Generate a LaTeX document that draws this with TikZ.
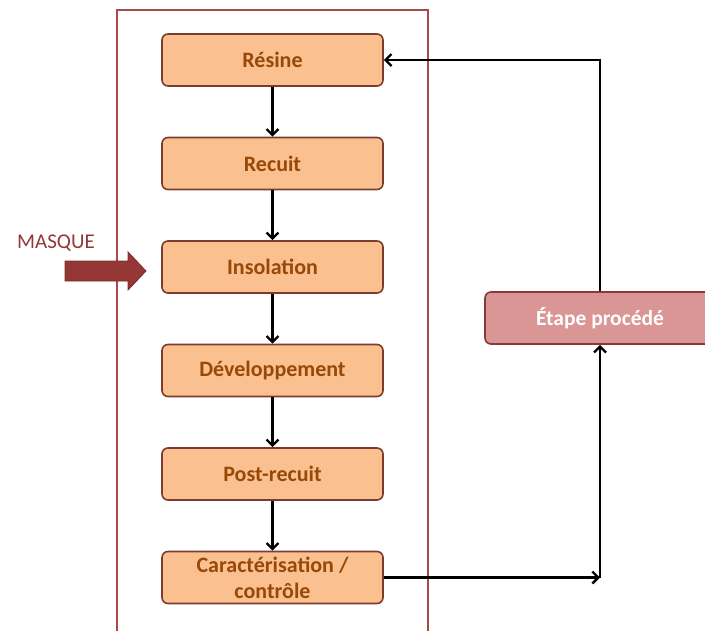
\documentclass[tikz,border=0pt]{standalone}
\usepackage{fontspec}
\setmainfont{Carlito}
\usetikzlibrary{positioning}
\usetikzlibrary{arrows.meta}
\definecolor{boxfill}{HTML}{FAC090}
\definecolor{boxline}{HTML}{7D3B2E}
\definecolor{boxtext}{HTML}{984807}
\definecolor{etapefill}{HTML}{D99694}
\definecolor{etapeline}{HTML}{8C3836}
\definecolor{framecol}{HTML}{A84A48}
\definecolor{masquecol}{HTML}{953735}

\begin{document}
\begin{tikzpicture}[x=1pt, y=-1pt, node distance=49.9pt,
	stepbox/.style={draw=boxline, fill=boxfill, line width=1.6pt, rounded corners=6pt, minimum width=221pt, minimum height=52pt, inner sep=0pt, align=center, text=boxtext, font=\fontsize{22}{26}\selectfont\bfseries},
	etapebox/.style={stepbox, draw=etapeline, fill=etapefill, text=white, minimum width=230pt, font=\fontsize{21.5}{26}\selectfont\bfseries},
	flow/.style={black, line width=2.4pt, -{Straight Barb[length=6pt, width=12pt]}}]
	\useasboundingbox (0,0) rectangle (705,630);
	\draw[framecol, line width=1.3pt] (117,10) rectangle (428,645);
	\node[stepbox](resine) at (272.5,60){Résine};
	\node[stepbox, below=of resine](recuit){Recuit};
	\node[stepbox, below=of recuit](insolation){Insolation};
	\node[stepbox, below=of insolation](developpement){Développement};
	\node[stepbox, below=of developpement](postrecuit){Post-recuit};
	\node[stepbox, below=of postrecuit](caract){Caractérisation /\\contrôle};
	\node[etapebox](etape) at (600,318){Étape procédé};
	% masque
	\node[text=masquecol, font=\fontsize{21}{25}\selectfont](masque) at (56,243){MASQUE};
	\fill[masquecol, draw=masquecol!80!black, line width=0.8pt] (65,261) -- (128,261) -- (128,252) -- (146,271) -- (128,290) -- (128,281) -- (65,281) -- cycle;
	% flow
	\draw[flow] (resine) -- (recuit);
	\draw[flow] (recuit) -- (insolation);
	\draw[flow] (insolation) -- (developpement);
	\draw[flow] (developpement) -- (postrecuit);
	\draw[flow] (postrecuit) -- (caract);
	\coordinate (corner) at (caract.east -| etape.south);
	\draw[flow] (caract.east) -- (corner);
	\draw[flow] (corner) -- (etape.south);
	\draw[flow] (etape.north) |- (resine.east);
\end{tikzpicture}
\end{document}
